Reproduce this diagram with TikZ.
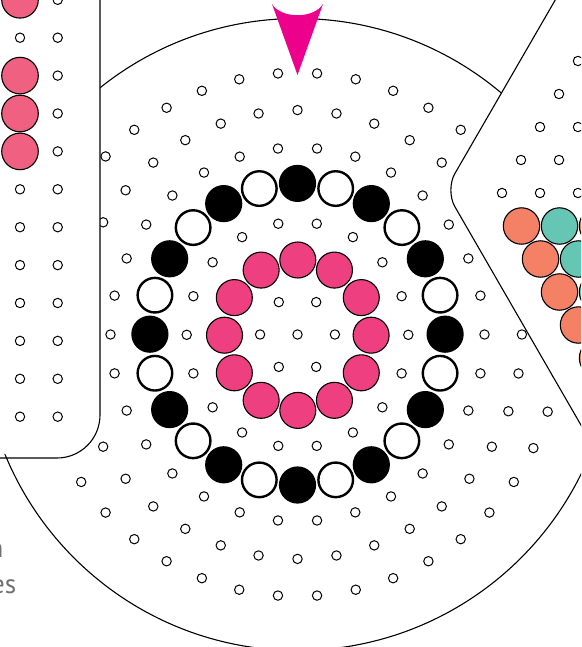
\documentclass[tikz,border=0pt]{standalone}
\usepackage{fontspec}
\newfontfamily\labelfont{PT Sans}
\definecolor{ringpink}{HTML}{EE4080}
\definecolor{panelpink}{HTML}{F06080}
\definecolor{salmonc}{HTML}{F48066}
\definecolor{tealc}{HTML}{66C6B4}
\definecolor{arrowpink}{HTML}{EC008C}
\definecolor{textgray}{HTML}{707070}
\tikzset{
  hole/.style={draw=black, fill=white, line width=1pt},
  pinkball/.style={draw=black, fill=ringpink, line width=1.1pt},
  lpinkball/.style={draw=black, fill=panelpink, line width=1.1pt},
  blackball/.style={fill=black},
  whiteball/.style={draw=black, fill=white, line width=2.4pt},
  salmonball/.style={draw=black, fill=salmonc, line width=1.1pt},
  tealball/.style={draw=black, fill=tealc, line width=1.1pt},
  outline/.style={draw=black, line width=1.1pt},
  gtext/.style={text=textgray, inner sep=0pt, font=\labelfont\fontsize{27}{30}\selectfont}
}
\begin{document}
\begin{tikzpicture}[x=1pt,y=-1pt]
\useasboundingbox (0,0) rectangle (581,647);
\clip (0,0) rectangle (581,647);
\fill[white] (0,0) rectangle (581,647);
% outer plate
\draw[outline] (297.5,334.5) circle (316pt);
% centre hole
\draw[hole] (297.5,334.5) circle (4.7pt);
% rings of small holes
\foreach \n in {1,5,6,7}{
  \pgfmathtruncatemacro{\cnt}{6*\n-1}
  \foreach \k in {0,...,\cnt}{
    \pgfmathsetmacro{\ang}{\k*360/(6*\n)}
    \draw[hole] ({297.5+37.4*\n*cos(\ang)},{334.5-37.4*\n*sin(\ang)}) circle (4.7pt);
  }
}
\foreach \k in {0,...,17}{
  \draw[hole] ({297.5+110.8*cos(\k*20)},{334.8-112.8*sin(\k*20)}) circle (4.7pt);
}
% pink ring
\foreach \k in {0,...,11}{
  \draw[pinkball] ({297.8+73.3*cos(\k*30)},{335.2-75.2*sin(\k*30)}) circle (18pt);
}
% black / white ring
\foreach \k in {0,...,23}{
  \pgfmathtruncatemacro{\parity}{mod(\k,2)}
  \ifnum\parity=0
    \fill[blackball] ({297.5+147.6*cos(\k*15)},{334.2-150.8*sin(\k*15)}) circle (18.6pt);
  \else
    \draw[whiteball] ({297.5+147.6*cos(\k*15)},{334.2-150.8*sin(\k*15)}) circle (17.3pt);
  \fi
}
% marker arrow
\fill[arrowpink] (272,4) .. controls (281,19) and (314,19) .. (323,4) -- (297.5,75) -- cycle;
% left panel
\fill[white, rounded corners=43pt] (-20,-20) -- (100,-20) -- (100,458) -- (-20,458) -- cycle;
\draw[outline, rounded corners=43pt] (100,-20) -- (100,458) -- (-20,458);
\foreach \r in {0,...,11}{
  \pgfmathsetmacro{\yy}{-0.2+37.9*\r}
  \draw[hole] (57.7,\yy) circle (4.7pt);
}
\foreach \r in {1,5,6,7,8,9,10,11}{
  \pgfmathsetmacro{\yy}{-0.2+37.9*\r}
  \draw[hole] (20,\yy) circle (4.7pt);
}
\foreach \r in {0,2,3,4}{
  \pgfmathsetmacro{\yy}{-0.2+37.9*\r}
  \draw[lpinkball] (20,\yy) circle (18.3pt);
}
% right (hexagonal) panel
\fill[white, rounded corners=19pt] (566.8,-20) -- (445.3,190.1) -- (739.7,700) -- (900,700) -- (900,-20) -- cycle;
\draw[outline, rounded corners=19pt] (566.8,-20) -- (445.3,190.1) -- (739.7,700);
\foreach \p in {(578,61),(559,94),(540,127),(578,127),(521,160),(559,160),(502,193),(540,193),(578,193)}{
  \draw[hole] \p circle (4.7pt);
}
\foreach \p in {(521.5,226),(597.5,226),(540.5,259),(559.5,292),(578.5,325),(597.5,358)}{
  \draw[salmonball] \p circle (18.2pt);
}
\foreach \p in {(559.5,226),(578.5,259),(597.5,292)}{
  \draw[tealball] \p circle (18.2pt);
}
% cut-off caption text
\node[gtext, anchor=base east] (capA) at (3.5,557) {n};
\node[gtext, anchor=base east] (capB) at (16.5,593) {es};
\end{tikzpicture}
\end{document}
